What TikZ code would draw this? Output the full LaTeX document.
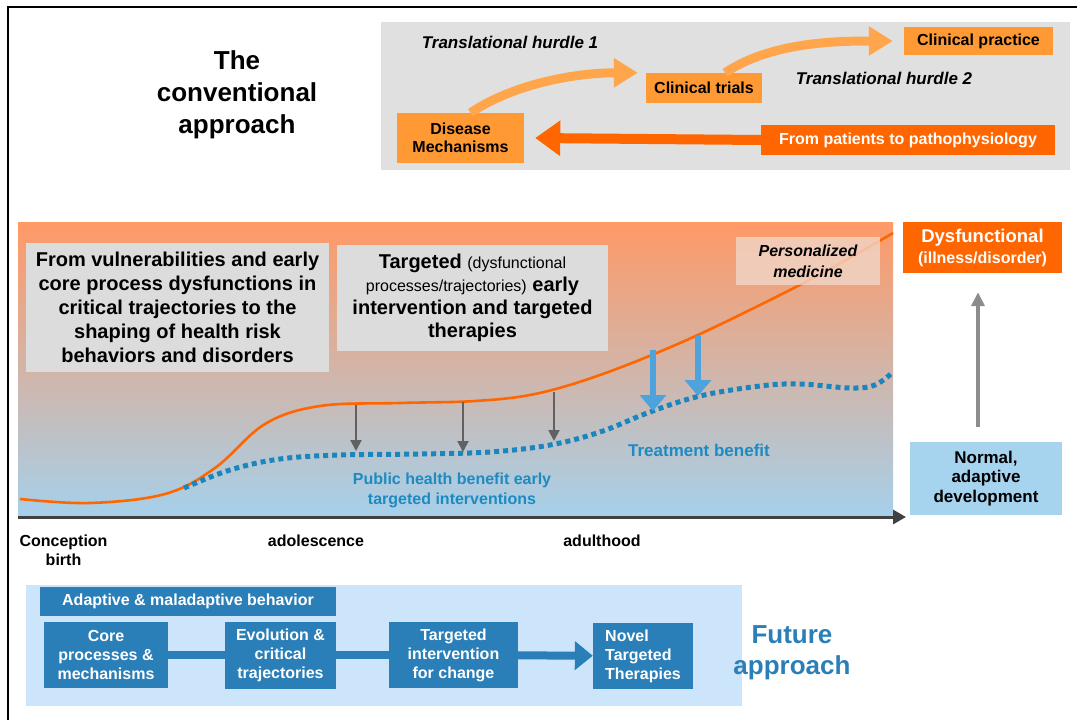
\documentclass[tikz,border=0pt]{standalone}
\usepackage{fontspec}
\setmainfont{Liberation Sans}
\usetikzlibrary{arrows.meta,positioning}

\definecolor{hotorange}{HTML}{FF6600}
\definecolor{boxorange}{HTML}{FF9933}
\definecolor{curveorange}{HTML}{FFA64D}
\definecolor{panelgray}{HTML}{E0E0E0}
\definecolor{notegray}{HTML}{DCDCDC}
\definecolor{salmon}{HTML}{FF9966}
\definecolor{mauve}{HTML}{D0B7B8}
\definecolor{sky}{HTML}{A6D0EA}
\definecolor{dotblue}{HTML}{1A86BD}
\definecolor{arrowblue}{HTML}{4FA3DC}
\definecolor{benefitblue}{HTML}{1F8AC0}
\definecolor{stepblue}{HTML}{2A7FB8}
\definecolor{paleblue}{HTML}{CCE5FA}
\definecolor{normalblue}{HTML}{A6D3EE}
\definecolor{peach}{HTML}{F0D6C8}

\newcommand{\fsz}[2]{\fontsize{#1}{#2}\selectfont}

\begin{document}
\begin{tikzpicture}[
        x=1pt, y=-1pt,
        stagebox/.style = {rectangle, fill=boxorange, inner sep=2pt,
                           font=\fsz{16}{18}\bfseries, align=center},
        hurdle/.style   = {font=\fsz{17}{20}\bfseries\itshape},
        notebox/.style  = {rectangle, fill=notegray, inner sep=2pt, align=center},
        stepbox/.style  = {rectangle, fill=stepblue, text=white, inner sep=2pt,
                           font=\fsz{16}{19}\bfseries, align=center},
        agelbl/.style   = {font=\fsz{16}{19}\bfseries, align=center},
        benefit/.style  = {text=benefitblue, font=\fsz{16}{20}\bfseries, align=center},
        fwdarr/.style   = {-{Triangle[length=24pt,width=28pt]}, line width=9pt, curveorange},
        backarr/.style  = {-{Triangle[length=25pt,width=34pt]}, line width=10pt, hotorange},
        dropgray/.style = {-{Triangle[length=11pt,width=11pt]}, line width=2pt, black!62},
        dropbig/.style  = {-{Triangle[length=16pt,width=26pt]}, line width=6pt, arrowblue},
        flowbar/.style  = {line width=8pt, stepblue}
    ]
    \useasboundingbox (0,0) rectangle (1077,720);

    % frame
    \draw[line width=2.5pt] (8,720) -- (8,7) -- (1077,7);

    % conventional approach
    \node[rectangle, fill=panelgray, inner sep=0, anchor=north west,
          minimum width=689pt, minimum height=148pt] (convpanel) at (381,22) {};
    \node[font=\fsz{26}{32}\bfseries, align=center] (convtitle) at (237,95)
        {The\\conventional\\approach};
    \node[hurdle] (hurdle1) at (510,42) {Translational hurdle 1};
    \node[hurdle] (hurdle2) at (884,78) {Translational hurdle 2};
    \node[stagebox, minimum width=127pt, minimum height=50pt] (mech) at (460.5,138)
        {Disease\\Mechanisms};
    \node[stagebox, minimum width=116pt, minimum height=30pt] (trials) at (704,88)
        {Clinical trials};
    \node[stagebox, minimum width=149pt, minimum height=28pt] (practice) at (978.5,41)
        {Clinical practice};
    \node[stagebox, fill=hotorange, text=white, minimum width=294pt,
          minimum height=30pt] (patients) at (908,140) {From patients to pathophysiology};

    \draw[fwdarr] ([xshift=10pt]mech.north) .. controls +(45,-30) and +(-60,0)
        .. ([xshift=-8pt]trials.north west);
    \draw[fwdarr] ([xshift=21pt]trials.north) .. controls +(45,-30) and +(-60,0)
        .. ([xshift=-11pt]practice.west);
    \draw[backarr] (patients.west) -- ([xshift=11pt]mech.east);

    % life course panel
    \shade[top color=salmon, middle color=mauve, bottom color=sky]
        (18,222) rectangle (893,515);
    \draw[-{Triangle[length=13pt,width=14pt]}, line width=3pt, black!75]
        (18,517) -- (906,517);

    \node[agelbl] (conception) at (63.5,550) {Conception\\birth};
    \node[agelbl] (adolescence) at (316,541) {adolescence};
    \node[agelbl] (adulthood) at (602,541) {adulthood};

    \node[notebox, minimum width=303pt, minimum height=129pt,
          font=\fsz{20}{24}\bfseries] (vuln) at (177.5,307.5)
        {From vulnerabilities and early\\core process dysfunctions in\\critical trajectories to the\\shaping of health risk\\behaviors and disorders};
    \node[notebox, minimum width=271pt, minimum height=106pt,
          font=\fsz{20}{23}\bfseries] (targeted) at (472.5,298)
        {Targeted {\fsz{16}{23}\mdseries (dysfunctional}\\{\fsz{16}{23}\mdseries processes/trajectories)} early\\intervention and targeted\\therapies};

    % risk trajectory and improved trajectory
    \draw[hotorange, line width=2.6pt] plot[smooth, tension=0.6] coordinates
        {(20,499) (90,503) (165,494) (215,468) (265,424) (320,406) (400,403)
         (475,401) (535,394) (600,375) (680,343) (760,305) (830,269) (893,233)};
    \draw[dotblue, line width=5pt, dash pattern=on 5pt off 4pt] plot[smooth, tension=0.6] coordinates
        {(184,488) (230,470) (280,459) (340,455) (420,454) (490,452) (550,445)
         (600,432) (650,412) (700,396) (760,386) (800,384) (850,388) (875,385) (893,372)};

    \node[rectangle, fill=peach, fill opacity=0.8, text opacity=1, inner sep=2pt,
          minimum width=144pt, minimum height=48pt, align=center,
          font=\fsz{16}{21}\bfseries\itshape] (personal) at (808,261)
        {Personalized\\medicine};

    \foreach \x/\a/\b in {356/405/451, 463/402/452, 554/392/441}
        \draw[dropgray] (\x,\a) -- (\x,\b);
    \foreach \x/\a/\b in {653/350/411, 698/336/396}
        \draw[dropbig] (\x,\a) -- (\x,\b);

    \node[benefit, font=\fsz{17}{20}\bfseries] (treat) at (699,450) {Treatment benefit};
    \node[benefit] (public) at (452,490) {Public health benefit early\\targeted interventions};

    % outcomes
    \node[rectangle, fill=hotorange, text=white, minimum width=159pt, minimum height=51pt,
          inner sep=2pt, align=center, font=\fsz{18.5}{21}\bfseries] (dys) at (982.5,247.5)
        {Dysfunctional\\{\fsz{16}{21}\selectfont(illness/disorder)}};
    \node[rectangle, fill=normalblue, minimum width=152pt, minimum height=73pt,
          inner sep=2pt, align=center, font=\fsz{17}{19.5}\bfseries] (normal) at (986,478.5)
        {Normal,\\adaptive\\development};
    \draw[-{Triangle[length=14pt,width=13pt]}, line width=4pt, black!45]
        ([xshift=-8pt,yshift=15pt]normal.north) -- ([xshift=-4.5pt,yshift=-19pt]dys.south);

    % future approach
    \node[rectangle, fill=paleblue, inner sep=0, anchor=north west,
          minimum width=716pt, minimum height=121pt] (futpanel) at (26,585) {};
    \node[stepbox, minimum width=296pt, minimum height=29pt] (behav) at (188,601.5)
        {Adaptive \& maladaptive behavior};
    \node[stepbox, minimum width=124pt, minimum height=66pt] (core) at (106,655)
        {Core\\processes \&\\mechanisms};
    \node[stepbox, minimum width=111pt, minimum height=67pt] (evol) at (280.5,655)
        {Evolution \&\\critical\\trajectories};
    \node[stepbox, minimum width=129pt, minimum height=66pt] (interv) at (453.5,655)
        {Targeted\\intervention\\for change};
    \node[stepbox, minimum width=100pt, minimum height=66pt, align=left] (novel) at (643,656)
        {Novel\\Targeted\\Therapies};

    \draw[flowbar] (core) -- (evol);
    \draw[flowbar] (evol) -- (interv);
    \draw[flowbar, -{Triangle[length=18pt,width=28pt]}] (interv) -- (novel);

    \node[font=\fsz{26}{31}\bfseries, text=stepblue, align=center] (future) at (792,653)
        {Future\\approach};
\end{tikzpicture}
\end{document}
